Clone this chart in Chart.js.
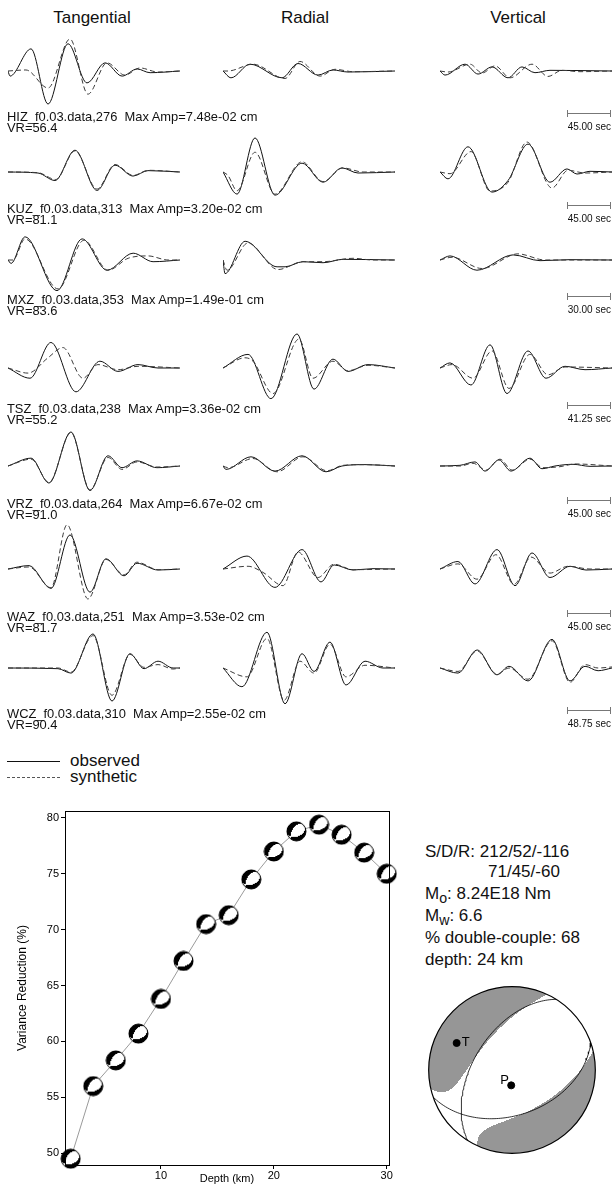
<!DOCTYPE html>
<html><head><meta charset="utf-8"><title>Moment tensor inversion</title>
<script src="https://cdn.jsdelivr.net/npm/chart.js@4.4.1/dist/chart.umd.min.js"></script>
<style>
html,body{margin:0;padding:0;background:#fff;}
#page{position:relative;width:614px;height:1186px;overflow:hidden;font-family:"Liberation Sans",Arial,Helvetica,sans-serif;color:#111;}
#page canvas{position:absolute;}
.t{position:absolute;white-space:nowrap;line-height:1;}
.hdr{font-size:17px;transform:translateX(-50%);}
.lab{font-size:12.9px;}
.sec{font-size:10px;}
.bar{position:absolute;height:0;border-top:1px solid #777;}
.bar:before,.bar:after{content:"";position:absolute;top:-4px;height:7px;border-left:1px solid #777;}
.bar:before{left:0}.bar:after{right:-1px}
.info{font-size:17px;}
.leg{position:absolute;height:0;width:53px;}
</style></head>
<body><div id="page"></div>
<script>
// ---- station table ----
const componentNames = ['Tangential', 'Radial', 'Vertical'];
const stationNames = ['HIZ', 'KUZ', 'MXZ', 'TSZ', 'VRZ', 'WAZ', 'WCZ'];
const stationDistKm = [276, 313, 353, 238, 264, 251, 310];
const stationMaxAmp = ['7.48e-02', '3.20e-02', '1.49e-01', '3.36e-02', '6.67e-02', '3.53e-02', '2.55e-02'];
const stationVR = ['56.4', '81.1', '83.6', '55.2', '91.0', '81.7', '90.4'];
const scaleBarSec = [45, 45, 30, 41.25, 45, 45, 48.75];

// ---- waveforms: [time (s), amplitude / station max] ----
const HIZ_tan_obs = [[0,0],[2.1,-0.15],[24.1,0.65],[41.9,-0.97],[62.8,0.8],[82.7,-0.35],[101.6,0.24],[119.4,-0.15],[135.1,0.06],[148.7,-0.05],[180,0]];
const HIZ_tan_syn = [[0,0],[18.8,0.03],[41.9,-0.5],[64.9,0.94],[83.7,-0.68],[103.6,0.24],[122.4,-0.12],[138.1,0.09],[157,-0.03],[180,0]];
const HIZ_rad_obs = [[0,0],[8.4,-0.2],[28.3,0.2],[61.8,-0.2],[78.5,0.22],[99.4,-0.12],[115.1,0.03],[130.8,-0.03],[180,0]];
const HIZ_rad_syn = [[0,0],[5.2,0],[31.4,0.2],[64.9,-0.22],[80.6,0.28],[101.6,-0.15],[117.2,0.05],[136.1,-0.02],[180,0]];
const HIZ_ver_obs = [[0,0],[5.2,-0.12],[26.2,0.2],[39.8,-0.09],[54.4,0.12],[71.2,-0.2],[85.8,0.12],[99.4,-0.05],[115.1,0.02],[180,0]];
const HIZ_ver_syn = [[0,0],[8.4,-0.03],[31.4,0.2],[44,-0.06],[57.6,0.15],[73.3,-0.2],[96.3,0.2],[113,-0.16],[127.7,0.02],[146.5,-0.02],[180,0]];

const KUZ_tan_obs = [[0,0],[31.4,-0.03],[49.2,-0.25],[70.1,0.64],[93.1,-0.54],[112,0.2],[130.8,-0.12],[146.5,0.04],[180,0]];
const KUZ_tan_syn = [[0,0],[31.4,-0.02],[50,-0.22],[70.1,0.62],[93.1,-0.5],[112,0.22],[131,-0.1],[147,0.05],[180,0]];
const KUZ_rad_obs = [[0,0],[14.7,-0.65],[33.5,1.0],[54.4,-0.68],[82.7,0.26],[104.7,-0.3],[124.5,0.12],[141.3,-0.03],[180,0]];
const KUZ_rad_syn = [[0,0],[5.2,-0.1],[14.7,-0.55],[33.5,0.58],[54.4,-0.65],[82.7,0.3],[104.7,-0.28],[125.6,0.12],[146.5,0],[180,0]];
const KUZ_ver_obs = [[0,0],[8.4,-0.2],[29.3,0.74],[54.4,-0.59],[71.2,-0.25],[92.1,0.82],[115.1,-0.3],[132.9,0.09],[143.4,-0.06],[157,0.02],[180,0]];
const KUZ_ver_syn = [[0,0],[10.5,-0.05],[32.4,0.6],[52.3,-0.56],[71.2,-0.3],[91,0.88],[117.2,-0.47],[134,0.05],[151.8,-0.03],[180,0]];

const MXZ_tan_obs = [[0,0],[2.1,-0.1],[11.9,0.68],[34.2,-0.9],[51.7,0.62],[69.1,-0.3],[87.3,0.2],[101.2,-0.05],[120,0]];
const MXZ_tan_syn = [[0,0],[3.5,0],[11.9,0.62],[34.9,-0.85],[53,0.58],[69.8,-0.3],[83.8,0.05],[97.7,0.12],[111.7,0],[120,0]];
const MXZ_rad_obs = [[0,0],[1.4,-0.4],[15.4,0.55],[37.7,-0.2],[43.3,-0.2],[55.8,-0.05],[69.8,-0.08],[83.8,0.02],[120,0]];
const MXZ_rad_syn = [[0,0],[2.8,-0.3],[17.4,0.5],[38.4,-0.28],[55.8,-0.05],[69.8,-0.05],[90.7,0.05],[104.7,0],[120,0]];
const MXZ_ver_obs = [[0,0],[7,0.12],[25.8,-0.3],[51,0.15],[69.8,-0.02],[90.7,0.01],[120,0]];
const MXZ_ver_syn = [[0,0],[8.4,0.08],[29.3,-0.25],[54.4,0.18],[73.3,0],[120,0]];

const TSZ_tan_obs = [[0,0],[21.1,-0.3],[41.2,0.75],[65.2,-0.7],[88.2,0.2],[105.5,-0.1],[124.7,0.1],[143.9,0],[165,0]];
const TSZ_tan_syn = [[0,0],[19.2,-0.15],[38.4,0.3],[52.7,0.6],[71.9,-0.3],[86.3,0.1],[105.5,-0.05],[124.7,0.05],[165,0]];
const TSZ_rad_obs = [[0,0],[24,0.4],[46,-0.9],[71,1.0],[87.3,-0.62],[105.5,0.26],[119.9,-0.1],[139.1,0.1],[165,0]];
const TSZ_rad_syn = [[0,0],[21.1,0.3],[28.8,0.2],[48,-0.75],[72.9,0.85],[86.3,-0.3],[105.5,0.2],[119.9,-0.08],[139.1,0.08],[165,0]];
const TSZ_ver_obs = [[0,0],[9.6,0.15],[29.7,-0.5],[48,0.68],[64.3,-0.75],[84.4,0.5],[101.7,-0.3],[119.9,0.05],[139.1,-0.05],[165,0]];
const TSZ_ver_syn = [[0,0],[11.5,0.1],[31.6,-0.3],[49.9,0.5],[66.2,-0.6],[86.3,0.4],[103.6,-0.2],[119.9,0.03],[165,0]];

const VRZ_tan_obs = [[0,0],[24.1,0.23],[42.9,-0.5],[65.9,1.0],[85.8,-0.72],[104.7,0.3],[119.3,-0.05],[135,0.15],[155.9,-0.05],[180,0]];
const VRZ_tan_syn = [[0,0],[24.1,0.2],[42.9,-0.48],[65.9,0.98],[85.8,-0.7],[104.7,0.25],[119.3,-0.1],[135,0.12],[155.9,-0.03],[180,0]];
const VRZ_rad_obs = [[0,0],[3.1,-0.1],[29.3,0.27],[54.4,-0.15],[82.7,0.3],[107.8,-0.17],[124.5,0],[148.6,0.04],[180,0]];
const VRZ_rad_syn = [[0,0],[5.2,-0.05],[31.4,0.22],[56.5,-0.17],[83.7,0.27],[108.8,-0.14],[125.6,0.02],[148.6,0.04],[180,0]];
const VRZ_ver_obs = [[0,0],[20.9,0.02],[36.6,0.12],[47.1,-0.15],[61.7,0.18],[74.3,-0.15],[94.2,0.23],[106.7,-0.08],[120.3,0],[139.2,0.05],[157,-0.01],[180,0]];
const VRZ_ver_syn = [[0,0],[20.9,0],[34.5,0.08],[48.1,-0.12],[62.8,0.2],[75.4,-0.12],[94.2,0.2],[107.8,-0.05],[125.6,-0.02],[141.3,0.06],[180,0]];

const WAZ_tan_obs = [[0,0],[22,0.1],[45,-0.57],[64.9,1.0],[85.8,-0.68],[102.6,0.3],[121.4,-0.2],[135,0.17],[157,-0.03],[180,0]];
const WAZ_tan_syn = [[0,0],[22,0.06],[45,-0.55],[61.8,1.3],[83.7,-0.88],[102.6,0.28],[121.4,-0.17],[135,0.2],[157,-0.02],[180,0]];
const WAZ_rad_obs = [[0,0],[25.1,0.38],[54.4,-0.54],[82.7,0.57],[102.6,-0.38],[116.2,0.12],[136.1,-0.03],[157,0.01],[180,0]];
const WAZ_rad_syn = [[0,0],[26.2,0.08],[41.9,-0.1],[62.8,-0.49],[78.5,0.5],[99.4,-0.25],[116.2,0.14],[136.1,-0.02],[180,0]];
const WAZ_ver_obs = [[0,0],[18.8,0.22],[36.6,-0.44],[59.7,0.57],[78.5,-0.49],[96.3,0.47],[115.1,-0.25],[136.1,0.08],[152.8,-0.03],[180,0]];
const WAZ_ver_syn = [[0,0],[18.8,0.15],[38.7,-0.3],[58.6,0.42],[77.5,-0.45],[95.2,0.35],[115.1,-0.12],[134,0.08],[157,0],[180,0]];

const WCZ_tan_obs = [[0,0],[56.7,-0.02],[71.4,-0.15],[96.4,1.0],[117.9,-0.97],[138.3,0.42],[154.2,-0.02],[170.1,0.2],[187.1,0],[195,0]];
const WCZ_tan_syn = [[0,0],[56.7,0],[71.4,-0.12],[96.4,0.95],[117.9,-0.8],[138.3,0.4],[154.2,0.02],[170.1,0.1],[187.1,-0.03],[195,0]];
const WCZ_rad_obs = [[0,0],[21.5,-0.55],[49.9,1.05],[70.3,-1.05],[89.6,0.42],[103.2,-0.1],[121.3,0.76],[139.5,-0.5],[161,0.2],[181.4,0],[195,0]];
const WCZ_rad_syn = [[0,0],[27.2,-0.26],[49.9,0.87],[69.2,-0.95],[87.3,0.2],[103.2,-0.15],[121.3,0.7],[139.5,-0.26],[161,0.08],[195,0]];
const WCZ_ver_obs = [[0,0],[20.4,-0.15],[42,0.53],[64.6,-0.2],[78.2,0.05],[99.8,-0.38],[127,0.84],[147.4,-0.38],[164.4,0.05],[179.2,-0.08],[195,0]];
const WCZ_ver_syn = [[0,0],[20.4,-0.1],[42,0.5],[64.6,-0.18],[78.2,0],[99.8,-0.33],[127,0.8],[147.4,-0.42],[164.4,0.1],[179.2,0],[195,0.03]];

// ---- depth search ----
const depthsKm = [2, 4, 6, 8, 10, 12, 14, 16, 18, 20, 22, 24, 26, 28, 30];
const varianceReduction = [49.5, 56.0, 58.3, 60.7, 63.8, 67.2, 70.5, 71.3, 74.5, 77.0, 78.8, 79.4, 78.5, 76.9, 75.0];
const vrTicks = [50, 55, 60, 65, 70, 75, 80];
const depthTicks = [10, 20, 30];

// ---- best solution ----
const planeA = [212, 52, -116];
const planeB = [71, 45, -60];
const doubleCouplePct = 68;
const tAxisAzPlunge = [296, 27];
const pAxisAzPlunge = [183, 75];
const solutionLines = ['S/D/R: 212/52/-116', '71/45/-60', 'M<sub>o</sub>: 8.24E18 Nm', 'M<sub>w</sub>: 6.6', '% double-couple: ' + doubleCouplePct, 'depth: 24 km'];

// ================= drawing =================
const page = document.getElementById('page');
Chart.defaults.font.family = '"Liberation Sans", Arial, sans-serif';

const traceTable = {
  HIZ: [[HIZ_tan_obs, HIZ_tan_syn], [HIZ_rad_obs, HIZ_rad_syn], [HIZ_ver_obs, HIZ_ver_syn]],
  KUZ: [[KUZ_tan_obs, KUZ_tan_syn], [KUZ_rad_obs, KUZ_rad_syn], [KUZ_ver_obs, KUZ_ver_syn]],
  MXZ: [[MXZ_tan_obs, MXZ_tan_syn], [MXZ_rad_obs, MXZ_rad_syn], [MXZ_ver_obs, MXZ_ver_syn]],
  TSZ: [[TSZ_tan_obs, TSZ_tan_syn], [TSZ_rad_obs, TSZ_rad_syn], [TSZ_ver_obs, TSZ_ver_syn]],
  VRZ: [[VRZ_tan_obs, VRZ_tan_syn], [VRZ_rad_obs, VRZ_rad_syn], [VRZ_ver_obs, VRZ_ver_syn]],
  WAZ: [[WAZ_tan_obs, WAZ_tan_syn], [WAZ_rad_obs, WAZ_rad_syn], [WAZ_ver_obs, WAZ_ver_syn]],
  WCZ: [[WCZ_tan_obs, WCZ_tan_syn], [WCZ_rad_obs, WCZ_rad_syn], [WCZ_ver_obs, WCZ_ver_syn]]
};

function addText(html, cls, left, top, extra) {
  const d = document.createElement('div');
  d.className = 't ' + cls;
  d.innerHTML = html;
  d.style.left = left + 'px';
  d.style.top = top + 'px';
  if (extra) Object.assign(d.style, extra);
  page.appendChild(d);
  return d;
}
function addCanvas(left, top, w, h) {
  const c = document.createElement('canvas');
  c.width = w; c.height = h;
  c.style.left = left + 'px'; c.style.top = top + 'px';
  c.style.width = w + 'px'; c.style.height = h + 'px';
  page.appendChild(c);
  return c;
}

// column headers
const colLeft = [8, 223, 440];
const colCenter = [92, 305, 518];
componentNames.forEach((n, i) => addText(n, 'hdr', colCenter[i], 9));

// waveform panels
const PANEL_W = 172, PANEL_H = 96, AMP_RANGE = 1.41;   // 1.0 -> ~34 px
const rowBase = [71, 172, 260, 368, 466, 569, 668];
const rowLabel = [111, 203, 294, 403, 498, 611, 708];

function waveformPanel(left, base, tmax, obs, syn) {
  const c = addCanvas(left, base - PANEL_H / 2, PANEL_W, PANEL_H);
  const pts = a => a.map(([x, y]) => ({ x, y }));
  new Chart(c, {
    type: 'line',
    data: { datasets: [
      { data: pts(syn), borderColor: '#3a3a3a', borderWidth: 1, borderDash: [5, 3], pointRadius: 0, cubicInterpolationMode: 'monotone', clip: false },
      { data: pts(obs), borderColor: '#111', borderWidth: 1, pointRadius: 0, cubicInterpolationMode: 'monotone', clip: false }
    ]},
    options: {
      responsive: false, animation: false, events: [],
      layout: { padding: 0 },
      plugins: { legend: { display: false }, tooltip: { enabled: false } },
      scales: {
        x: { type: 'linear', display: false, min: 0, max: tmax },
        y: { display: false, min: -AMP_RANGE, max: AMP_RANGE }
      }
    }
  });
}

stationNames.forEach((st, r) => {
  const tmax = scaleBarSec[r] * 4;
  traceTable[st].forEach((pair, c) => waveformPanel(colLeft[c], rowBase[r], tmax, pair[0], pair[1]));
  addText(`${st}_f0.03.data,${stationDistKm[r]}&nbsp; Max Amp=${stationMaxAmp[r]} cm`, 'lab', 7, rowLabel[r]);
  addText(`VR=${stationVR[r]}`, 'lab', 7, rowLabel[r] + 10.5);
  const bar = document.createElement('div');
  bar.className = 'bar';
  Object.assign(bar.style, { left: '567px', width: '43px', top: (rowLabel[r] + 2) + 'px' });
  page.appendChild(bar);
  addText(scaleBarSec[r].toFixed(2) + ' sec', 'sec', 0, rowLabel[r] + 11, { left: 'auto', right: '3px' });
});

// legend
const legSolid = document.createElement('div');
legSolid.className = 'leg';
Object.assign(legSolid.style, { left: '7px', top: '761px', borderTop: '1px solid #111' });
page.appendChild(legSolid);
const legDash = document.createElement('div');
legDash.className = 'leg';
Object.assign(legDash.style, { left: '7px', top: '777px', borderTop: '1px dashed #555' });
page.appendChild(legDash);
addText('observed', 'info', 70, 752);
addText('synthetic', 'info', 70, 768);

// ---- focal mechanism math (x north, y east, z down) ----
const D2R = Math.PI / 180;
function faultVectors(sdr) {
  const [f, d, l] = sdr.map(v => v * D2R);
  const n = [-Math.sin(d) * Math.sin(f), Math.sin(d) * Math.cos(f), -Math.cos(d)];
  const s = [Math.cos(l) * Math.cos(f) + Math.cos(d) * Math.sin(l) * Math.sin(f),
             Math.cos(l) * Math.sin(f) - Math.cos(d) * Math.sin(l) * Math.cos(f),
             -Math.sin(l) * Math.sin(d)];
  return { n, s };
}
function cross(a, b) { return [a[1] * b[2] - a[2] * b[1], a[2] * b[0] - a[0] * b[2], a[0] * b[1] - a[1] * b[0]]; }
// deviatoric tensor from the principal axes; the non-double-couple part
// is put on the null axis with eigenvalues (1, -eps, eps - 1)
function momentTensor(sdr, dcPct) {
  const { n, s } = faultVectors(sdr);
  const T = [0, 1, 2].map(i => (n[i] + s[i]) / Math.SQRT2);
  const P = [0, 1, 2].map(i => (n[i] - s[i]) / Math.SQRT2);
  const B = cross(T, P);
  const eps = (100 - dcPct) / 200;
  const lam = [1, -eps, eps - 1], ax = [T, B, P];
  return [0, 1, 2].map(i => [0, 1, 2].map(j => ax.reduce((acc, v, k) => acc + lam[k] * v[i] * v[j], 0)));
}
function rayFromXY(X, Y) {
  const r = Math.min(1, Math.hypot(X, Y));
  const th = 2 * Math.asin(r / Math.SQRT2), az = Math.atan2(X, Y);
  return [Math.sin(th) * Math.cos(az), Math.sin(th) * Math.sin(az), Math.cos(th)];
}
function xyFromVec(v) {
  if (v[2] < 0) v = v.map(c => -c);
  const th = Math.acos(Math.min(1, v[2])), r = Math.SQRT2 * Math.sin(th / 2), az = Math.atan2(v[1], v[0]);
  return { x: r * Math.sin(az), y: r * Math.cos(az) };
}
function xyFromAzPlunge(azPl) {
  const az = azPl[0] * D2R, pl = azPl[1] * D2R;
  return xyFromVec([Math.cos(pl) * Math.cos(az), Math.cos(pl) * Math.sin(az), Math.sin(pl)]);
}
function radiation(M, g) {
  let a = 0;
  for (let i = 0; i < 3; i++) for (let j = 0; j < 3; j++) a += g[i] * M[i][j] * g[j];
  return a;
}
function nodalPlane(sdr) {
  const f = sdr[0] * D2R, d = sdr[1] * D2R;
  const a = [Math.cos(f), Math.sin(f), 0];
  const b = [Math.cos(f + Math.PI / 2) * Math.cos(d), Math.sin(f + Math.PI / 2) * Math.cos(d), Math.sin(d)];
  const out = [];
  for (let t = 0; t <= 180; t += 2) {
    const c = Math.cos(t * D2R), s = Math.sin(t * D2R);
    out.push(xyFromVec([c * a[0] + s * b[0], c * a[1] + s * b[1], c * a[2] + s * b[2]]));
  }
  return out;
}

const M_full = momentTensor(planeA, doubleCouplePct);
const M_dc = momentTensor(planeA, 100);

// small beachball image for the depth plot
function miniBall(M, size) {
  const c = document.createElement('canvas');
  c.width = size; c.height = size;
  const ctx = c.getContext('2d');
  const R = size / 2 - 1, cx = size / 2, cy = size / 2;
  const img = ctx.createImageData(size, size);
  for (let py = 0; py < size; py++) for (let px = 0; px < size; px++) {
    const X = (px + 0.5 - cx) / R, Y = (cy - py - 0.5) / R;
    if (X * X + Y * Y > 1) continue;
    const v = radiation(M, rayFromXY(X, Y)) > 0 ? 0 : 255;
    const k = (py * size + px) * 4;
    img.data[k] = img.data[k + 1] = img.data[k + 2] = v; img.data[k + 3] = 255;
  }
  ctx.putImageData(img, 0, 0);
  ctx.beginPath(); ctx.arc(cx, cy, R, 0, 2 * Math.PI);
  ctx.strokeStyle = '#000'; ctx.lineWidth = 1; ctx.stroke();
  return c;
}

// ---- variance reduction vs depth ----
const frame = {
  id: 'frame',
  afterDraw(chart) {
    const { ctx, chartArea: a } = chart;
    ctx.save(); ctx.strokeStyle = '#000'; ctx.lineWidth = 1;
    ctx.strokeRect(Math.round(a.left) + 0.5, Math.round(a.top) + 0.5, Math.round(a.right - a.left), Math.round(a.bottom - a.top));
    ctx.restore();
  }
};
const vrCanvas = addCanvas(0, 800, 400, 386);
const ball = miniBall(M_dc, 21);
new Chart(vrCanvas, {
  type: 'scatter',
  data: { datasets: [{
    data: depthsKm.map((d, i) => ({ x: d, y: varianceReduction[i] })),
    showLine: true, borderColor: '#9a9a9a', borderWidth: 1,
    pointStyle: ball, pointRadius: 10, clip: false
  }]},
  options: {
    responsive: false, animation: false, events: [],
    layout: { padding: { top: 8, right: 8, left: 13, bottom: 0 } },
    plugins: { legend: { display: false }, tooltip: { enabled: false } },
    scales: {
      x: {
        type: 'linear', min: 1.5, max: 30.2,
        afterBuildTicks: s => { s.ticks = depthTicks.map(v => ({ value: v })); },
        afterFit: s => { s.height = 21; },
        grid: { drawOnChartArea: false, tickLength: 4, color: '#000' },
        border: { color: '#000' },
        ticks: { color: '#000', font: { size: 11 }, padding: 0, maxRotation: 0 },
        title: { display: true, text: 'Depth (km)', color: '#000', font: { size: 11 }, padding: 0 }
      },
      y: {
        min: 48.94, max: 80.62,
        afterBuildTicks: s => { s.ticks = vrTicks.map(v => ({ value: v })); },
        afterFit: s => { s.width = 52; },
        grid: { drawOnChartArea: false, tickLength: 4, color: '#000' },
        border: { color: '#000' },
        ticks: { color: '#000', font: { size: 11 }, padding: 2 },
        title: { display: true, text: 'Variance Reduction (%)', color: '#000', font: { size: 12 }, padding: 2 }
      }
    }
  },
  plugins: [frame]
});

// solution text
const infoTop = [843, 863, 885, 907, 929, 951];
solutionLines.forEach((s, i) => addText(s, 'info', i === 1 ? 488 : 425, infoTop[i]));

// ---- focal sphere ----
const tMark = xyFromAzPlunge(tAxisAzPlunge);
const pMark = xyFromAzPlunge(pAxisAzPlunge);

const sphereShade = {
  id: 'sphereShade',
  beforeDatasetsDraw(chart) {
    const { ctx, scales: { x, y } } = chart;
    const l = Math.floor(x.getPixelForValue(-1)), r = Math.ceil(x.getPixelForValue(1));
    const t = Math.floor(y.getPixelForValue(1)), b = Math.ceil(y.getPixelForValue(-1));
    const w = r - l + 1, h = b - t + 1;
    const img = ctx.createImageData(w, h);
    for (let py = 0; py < h; py++) for (let px = 0; px < w; px++) {
      const X = x.getValueForPixel(l + px + 0.5), Y = y.getValueForPixel(t + py + 0.5);
      if (X * X + Y * Y > 1) continue;
      const v = radiation(M_full, rayFromXY(X, Y)) > 0 ? 150 : 255;
      const k = (py * w + px) * 4;
      img.data[k] = img.data[k + 1] = img.data[k + 2] = v; img.data[k + 3] = 255;
    }
    ctx.putImageData(img, l, t);
  },
  afterDatasetsDraw(chart) {
    const { ctx, scales: { x, y } } = chart;
    const cx = x.getPixelForValue(0), cy = y.getPixelForValue(0), R = x.getPixelForValue(1) - cx;
    ctx.save();
    ctx.beginPath(); ctx.arc(cx, cy, R, 0, 2 * Math.PI);
    ctx.strokeStyle = '#000'; ctx.lineWidth = 1.2; ctx.stroke();
    ctx.fillStyle = '#000'; ctx.font = '13px "Liberation Sans", Arial, sans-serif';
    ctx.fillText('T', x.getPixelForValue(tMark.x) + 5, y.getPixelForValue(tMark.y) + 3);
    ctx.fillText('P', x.getPixelForValue(pMark.x) - 11, y.getPixelForValue(pMark.y) - 1);
    ctx.restore();
  }
};
const sphereCanvas = addCanvas(417, 975, 190, 190);
new Chart(sphereCanvas, {
  type: 'scatter',
  data: { datasets: [
    { data: nodalPlane(planeA), showLine: true, borderColor: '#000', borderWidth: 0.8, pointRadius: 0, clip: false },
    { data: nodalPlane(planeB), showLine: true, borderColor: '#000', borderWidth: 0.8, pointRadius: 0, clip: false },
    { data: [tMark, pMark], showLine: false, pointRadius: 3.5, pointBackgroundColor: '#000', pointBorderColor: '#000', clip: false }
  ]},
  options: {
    responsive: false, animation: false, events: [],
    layout: { padding: 0 },
    plugins: { legend: { display: false }, tooltip: { enabled: false } },
    scales: {
      x: { type: 'linear', display: false, min: -1.08, max: 1.08 },
      y: { display: false, min: -1.08, max: 1.08 }
    }
  },
  plugins: [sphereShade]
});
</script></body></html>
